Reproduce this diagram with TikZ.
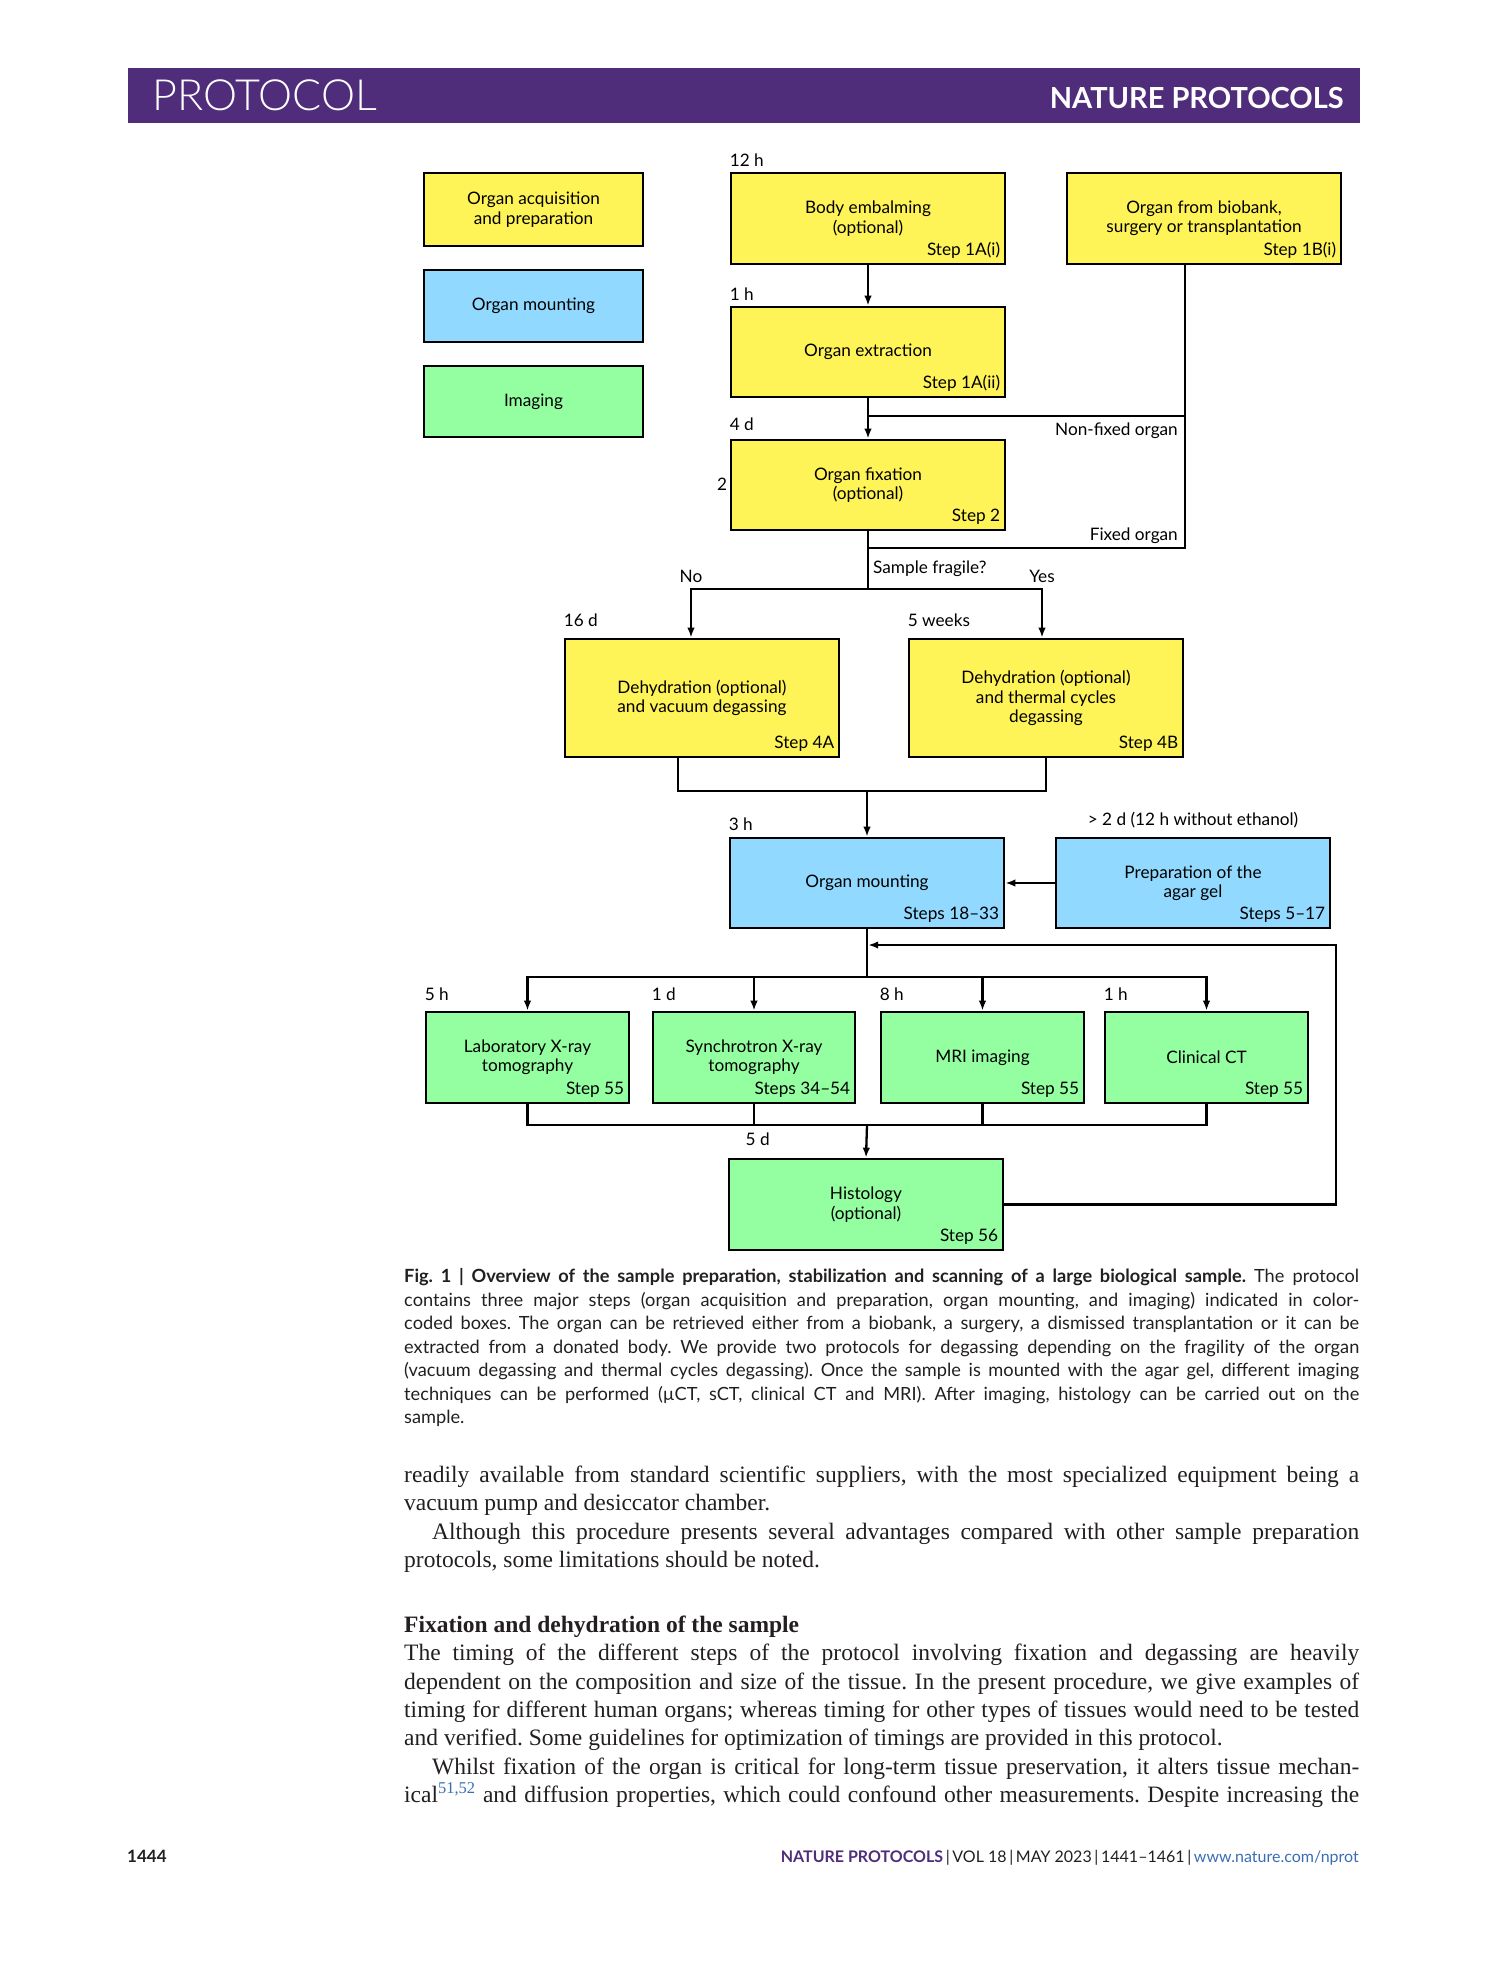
\documentclass[tikz,border=0pt]{standalone}
\usepackage{fontspec}
\setmainfont{Lato}
\newfontfamily\serifbody{Liberation Serif}
\IfFontExistsTF{Lato Light}{\newfontfamily\hdlight{Lato Light}}{\newfontfamily\hdlight{Lato}}
\usetikzlibrary{arrows.meta}
\definecolor{npurple}{HTML}{4F2D7A}
\definecolor{yfill}{HTML}{FFF457}
\definecolor{bfill}{HTML}{91D9FF}
\definecolor{gfill}{HTML}{94FFA1}
\definecolor{nblue}{HTML}{3B6DB4}
\definecolor{captxt}{HTML}{231F20}
\newcommand\lblfont{\fontsize{17.2}{19.4}\selectfont}
\newcommand\capfont{\fontsize{18.2}{20}\selectfont}
\newcommand\bodyfont{\serifbody\fontsize{23.5}{28.4}\selectfont}
\frenchspacing
\begin{document}
\frenchspacing
\begin{tikzpicture}[x=1pt,y=-1pt,
  lbl/.style={font=\lblfont, text=black, inner sep=0pt},
  box/.style={draw=black, line width=2.7pt, inner sep=0pt, align=center, font=\lblfont, text=black},
  ybox/.style={box, fill=yfill},
  bbox/.style={box, fill=bfill},
  gbox/.style={box, fill=gfill},
  wide/.style={minimum width=274pt, minimum height=90pt},
  imgbox/.style={gbox, minimum width=203pt, minimum height=91pt},
  legbox/.style={minimum width=219pt, minimum height=72pt},
  conn/.style={line width=2.3pt, line join=miter},
  arr/.style={conn, -{Latex[length=10pt,width=7.5pt]}},
  capline/.style={font=\capfont\frenchspacing, text=captxt, inner sep=0pt, anchor=base west},
  bodyline/.style={font=\bodyfont\frenchspacing, text=captxt, inner sep=0pt, anchor=base west}
]
\useasboundingbox (0,0) rectangle (1489,1978);

% header
\fill[npurple] (128,68) rectangle (1360,123);
\node[inner sep=0pt, anchor=base west, text=white, font=\hdlight\fontsize{43}{43}\selectfont] (hdl) at (152,110) {PROTOCOL};
\node[inner sep=0pt, anchor=base east, text=white, font=\bfseries\fontsize{29}{29}\selectfont] (hdr) at (1344,108) {NATURE PROTOCOLS};

% legend
\node[ybox, legbox, minimum height=73pt] (l1) at (533.5,209.5) {Organ acquisition\\and preparation};
\node[bbox, legbox] (l2) at (533.5,306) {Organ mounting};
\node[gbox, legbox, minimum height=71pt] (l3) at (533.5,401.5) {Imaging};

% main boxes
\node[ybox, wide, minimum height=91pt] (be) at (868,218.5) {Body embalming\\(optional)};
\node[ybox, wide, minimum height=91pt] (ob) at (1204,218.5) {Organ from biobank,\\surgery or transplantation};
\node[ybox, wide] (oe) at (868,352) {Organ extraction};
\node[ybox, wide] (of) at (868,485) {Organ fixation\\(optional)};
\node[ybox, wide, minimum height=118pt] (d4a) at (702,698) {Dehydration (optional)\\and vacuum degassing};
\node[ybox, wide, minimum height=118pt] (d4b) at (1046,698) {Dehydration (optional)\\and thermal cycles\\degassing};
\node[bbox, wide] (om) at (867,883) {Organ mounting};
\node[bbox, wide] (ag) at (1193,883) {Preparation of the\\agar gel};
\node[imgbox] (lx) at (527.5,1057.5) {Laboratory X-ray\\tomography};
\node[imgbox, minimum width=202pt] (sx) at (754,1057.5) {Synchrotron X-ray\\tomography};
\node[imgbox] (mri) at (982.5,1057.5) {MRI imaging};
\node[imgbox] (ct) at (1206.5,1057.5) {Clinical CT};
\node[gbox, wide, minimum height=91pt] (h) at (866,1204.5) {Histology\\(optional)};

% step labels
\foreach \n/\t in {be/Step 1A(i), ob/Step 1B(i), oe/Step 1A(ii), of/Step 2, d4a/Step 4A, d4b/Step 4B, om/Steps 18–33, ag/Steps 5–17, lx/Step 55, sx/Steps 34–54, mri/Step 55, ct/Step 55, h/Step 56}
  \node[lbl, anchor=base east] (\n-step) at ([xshift=-6pt,yshift=9.5pt]\n.south east) {\t};

% time labels
\node[lbl, anchor=base west] (t-be) at ([yshift=5pt]be.north west) {12 h};
\node[lbl, anchor=base west] (t-oe) at ([yshift=5pt]oe.north west) {1 h};
\node[lbl, anchor=base west] (t-of) at ([yshift=8.5pt]of.north west) {4 d};
\node[lbl, anchor=base west] (t-d4a) at ([yshift=11pt]d4a.north west) {16 d};
\node[lbl, anchor=base west] (t-d4b) at ([yshift=11pt]d4b.north west) {5 weeks};
\node[lbl, anchor=base west] (t-om) at ([yshift=6.3pt]om.north west) {3 h};
\node[lbl, anchor=base] (t-ag) at ([yshift=11.3pt]ag.north) {> 2 d (12 h without ethanol)};
\node[lbl, anchor=base west] (t-lx) at ([yshift=10.3pt]lx.north west) {5 h};
\node[lbl, anchor=base west] (t-sx) at ([yshift=10.3pt]sx.north west) {1 d};
\node[lbl, anchor=base west] (t-mri) at ([yshift=10.3pt]mri.north west) {8 h};
\node[lbl, anchor=base west] (t-ct) at ([yshift=10.3pt]ct.north west) {1 h};
\node[lbl, anchor=base west] (t-h) at (745.5,1145) {5 d};
\node[lbl, anchor=base west] (two) at (717,490) {2};

% branch labels
\node[lbl, anchor=base east] (nfl) at (1178,435) {Non-fixed organ};
\node[lbl, anchor=base east] (fxl) at (1178,540) {Fixed organ};
\node[lbl, anchor=base west] (sfl) at (873,573) {Sample fragile?};
\node[lbl, anchor=base] (nol) at (691,582) {No};
\node[lbl, anchor=base] (yesl) at (1042,582) {Yes};

% connectors
\coordinate (nf) at (1185,416);
\coordinate (fx) at (1185,548);
\coordinate (fr) at (868,589);
\coordinate (dj) at (867,791);
\coordinate (ib) at (867,977);
\coordinate (hb) at (867,1125);
\coordinate (fb) at (1336,945);

\draw[arr] (be.south) -- (oe.north);
\draw[arr] (oe.south) -- (of.north);
\draw[conn] (ob.south -| nf) -- (fx) -- (fx -| of.south);
\draw[conn] (nf) -- (nf -| oe.south);
\draw[conn] (of.south) -- (fr);
\draw[arr] (fr) -| ([xshift=-11pt]d4a.north);
\draw[arr] (fr) -| ([xshift=-4pt]d4b.north);
\draw[conn] ([xshift=-24pt]d4a.south) |- (dj -| d4b.south) -- (d4b.south);
\draw[arr] (dj) -- (om.north);
\draw[arr] (ag.west) -- (om.east);
\draw[conn] (om.south) -- (ib);
\draw[arr] (ib) -| (lx.north);
\draw[arr] (ib) -| (ct.north);
\draw[arr] (ib -| sx.north) -- (sx.north);
\draw[arr] (ib -| mri.north) -- (mri.north);
\draw[conn] (lx.south) |- (hb) -| (ct.south);
\draw[conn] (sx.south) -- (sx.south |- hb);
\draw[conn] (mri.south) -- (mri.south |- hb);
\draw[arr] (hb) -- (h.north);
\draw[arr, shorten >=1.2pt] (h.east) -| (fb) -- (fb -| om.south);

% caption
\node[capline] (c1) at (404,1282.5) {\makebox[955pt][s]{\textbf{Fig. 1 | Overview of the sample preparation, stabilization and scanning of a large biological sample.} The protocol}};
\node[capline] (c2) at (404,1306) {\makebox[955pt][s]{contains three major steps (organ acquisition and preparation, organ mounting, and imaging) indicated in color-}};
\node[capline] (c3) at (404,1329.5) {\makebox[955pt][s]{coded boxes. The organ can be retrieved either from a biobank, a surgery, a dismissed transplantation or it can be}};
\node[capline] (c4) at (404,1353) {\makebox[955pt][s]{extracted from a donated body. We provide two protocols for degassing depending on the fragility of the organ}};
\node[capline] (c5) at (404,1376.5) {\makebox[955pt][s]{(vacuum degassing and thermal cycles degassing). Once the sample is mounted with the agar gel, different imaging}};
\node[capline] (c6) at (404,1400) {\makebox[955pt][s]{techniques can be performed (µCT, sCT, clinical CT and MRI). After imaging, histology can be carried out on the}};
\node[capline] (c7) at (404,1423.5) {sample.};

% body text
\node[bodyline] (b1) at (404,1482) {\makebox[955pt][s]{readily available from standard scientific suppliers, with the most specialized equipment being a}};
\node[bodyline] (b2) at (404,1510.5) {vacuum pump and desiccator chamber.};
\node[bodyline] (b3) at (404,1539) {\makebox[955pt][s]{\hspace*{28pt}Although this procedure presents several advantages compared with other sample preparation}};
\node[bodyline] (b4) at (404,1567.3) {protocols, some limitations should be noted.};
\node[bodyline] (b5) at (404,1632) {\bfseries Fixation and dehydration of the sample};
\node[bodyline] (b6) at (404,1660.5) {\makebox[955pt][s]{The timing of the different steps of the protocol involving fixation and degassing are heavily}};
\node[bodyline] (b7) at (404,1689) {\makebox[955pt][s]{dependent on the composition and size of the tissue. In the present procedure, we give examples of}};
\node[bodyline] (b8) at (404,1717.3) {\makebox[955pt][s]{timing for different human organs; whereas timing for other types of tissues would need to be tested}};
\node[bodyline] (b9) at (404,1745.6) {and verified. Some guidelines for optimization of timings are provided in this protocol.};
\node[bodyline] (b10) at (404,1774) {\makebox[955pt][s]{\hspace*{28pt}Whilst fixation of the organ is critical for long-term tissue preservation, it alters tissue mechan-}};
\node[bodyline] (b11) at (404,1802.5) {\makebox[955pt][s]{ical\textsuperscript{\color{nblue}51,52} and diffusion properties, which could confound other measurements. Despite increasing the}};

% footer
\node[inner sep=0pt, anchor=base west, text=captxt, font=\bfseries\fontsize{17}{17}\selectfont] (pg) at (127,1862) {1444};
\node[inner sep=0pt, anchor=base east, text=captxt, font=\fontsize{16}{16}\selectfont] (ft) at (1359,1862) {{\bfseries\color{npurple}NATURE PROTOCOLS}\,|\,VOL 18\,|\,MAY 2023\,|\,1441–1461\,|\,{\color{nblue}www.nature.com/nprot}};
\end{tikzpicture}
\end{document}
